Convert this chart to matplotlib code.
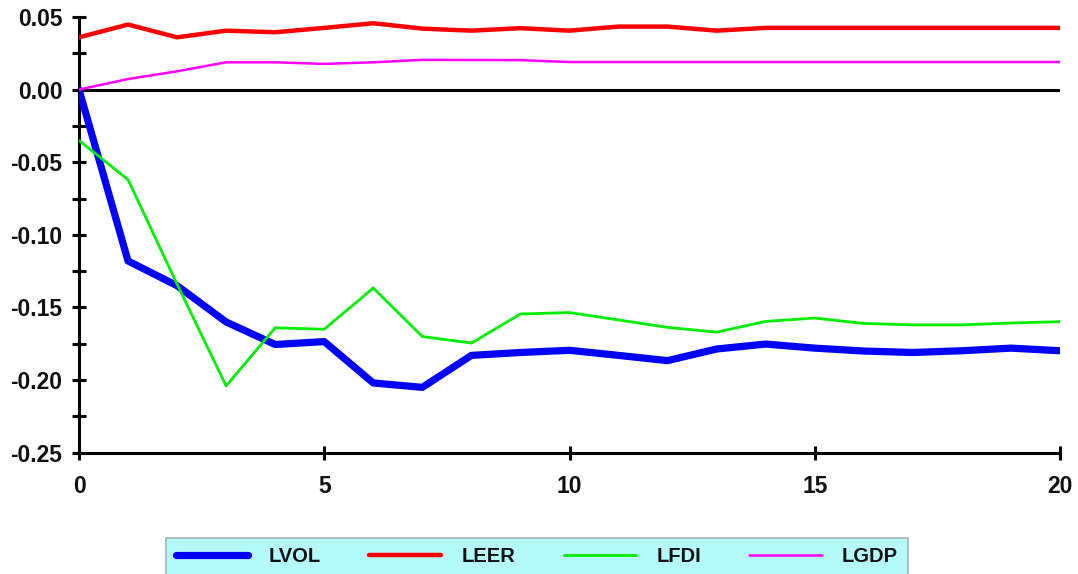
import matplotlib
matplotlib.use("Agg")
import matplotlib.pyplot as plt
from matplotlib.ticker import MultipleLocator, FormatStrFormatter
from matplotlib.patches import Rectangle

periods = list(range(21))
lvol = [0.0, -0.118, -0.135, -0.160, -0.1755, -0.1735, -0.202, -0.205, -0.183, -0.181,
        -0.1795, -0.183, -0.1866, -0.1786, -0.1752, -0.178, -0.180, -0.181, -0.1798, -0.178, -0.1798]
leer = [0.036, 0.0448, 0.036, 0.0406, 0.0395, 0.0425, 0.0457, 0.0420, 0.0406, 0.0423,
        0.0406, 0.0434, 0.0434, 0.0406, 0.0425, 0.0425, 0.0425, 0.0425, 0.0425, 0.0425, 0.0425]
lfdi = [-0.035, -0.062, -0.134, -0.204, -0.164, -0.165, -0.1366, -0.170, -0.1745, -0.1545,
        -0.1535, -0.1586, -0.1637, -0.167, -0.1596, -0.1573, -0.161, -0.162, -0.162, -0.1607, -0.1598]
lgdp = [0.0, 0.0073, 0.0126, 0.0188, 0.0188, 0.0177, 0.0188, 0.0205, 0.0204, 0.0203,
        0.019, 0.019, 0.019, 0.019, 0.019, 0.019, 0.019, 0.019, 0.019, 0.019, 0.019]
names = ["LVOL", "LEER", "LFDI", "LGDP"]

plt.rcParams['font.family'] = ['Liberation Sans', 'DejaVu Sans']

fig = plt.figure(figsize=(10.78, 5.74), dpi=100)
ax = fig.add_axes([79/1078, 1 - 452.7/574, (1060 - 79)/1078, (452.7 - 17)/574])

ax.axhline(0, color='black', lw=2.2, zorder=1)
l1, = ax.plot(periods, lvol, color='#0000ff', lw=5.2, solid_capstyle='round', zorder=3)
l2, = ax.plot(periods, leer, color='#ff0000', lw=3.2, solid_capstyle='round', zorder=3)
l3, = ax.plot(periods, lfdi, color='#00ee00', lw=2.0, solid_capstyle='round', zorder=3)
l4, = ax.plot(periods, lgdp, color='#ff00ff', lw=1.8, solid_capstyle='round', zorder=3)

ax.set_xlim(0, 20)
ax.set_ylim(-0.25, 0.05)
for s in ['top', 'right']:
    ax.spines[s].set_visible(False)
for s in ['left', 'bottom']:
    ax.spines[s].set_linewidth(2.2)
    ax.spines[s].set_color('black')

ax.xaxis.set_major_locator(MultipleLocator(5))
ax.yaxis.set_major_locator(MultipleLocator(0.05))
ax.yaxis.set_minor_locator(MultipleLocator(0.025))
ax.yaxis.set_major_formatter(FormatStrFormatter('%.2f'))
ax.tick_params(axis='both', which='both', direction='inout', length=10, width=2.2, color='black')
ax.tick_params(axis='y', which='major', pad=7, labelsize=16.5)
ax.tick_params(axis='x', which='major', pad=11, labelsize=16.5)
for lab in ax.get_xticklabels() + ax.get_yticklabels():
    lab.set_fontweight('bold')
    lab.set_color('#111111')

# legend background strip
fig.patches.append(Rectangle((166/1078, -0.02), (908 - 166)/1078, (574 - 538)/574 + 0.02,
                             transform=fig.transFigure, facecolor='#b5fafa',
                             edgecolor='#a0b8b8', lw=1.2, zorder=0))
leg = fig.legend([l1, l2, l3, l4], names, loc='center', bbox_to_anchor=(537/1078, 1 - 557/574),
                 ncol=4, frameon=False, handlelength=3.6, handletextpad=1.0, columnspacing=2.4,
                 prop={'weight': 'bold', 'size': 14.5})
for t in leg.get_texts():
    t.set_color('#111111')

fig.savefig('out.png', dpi=100)
